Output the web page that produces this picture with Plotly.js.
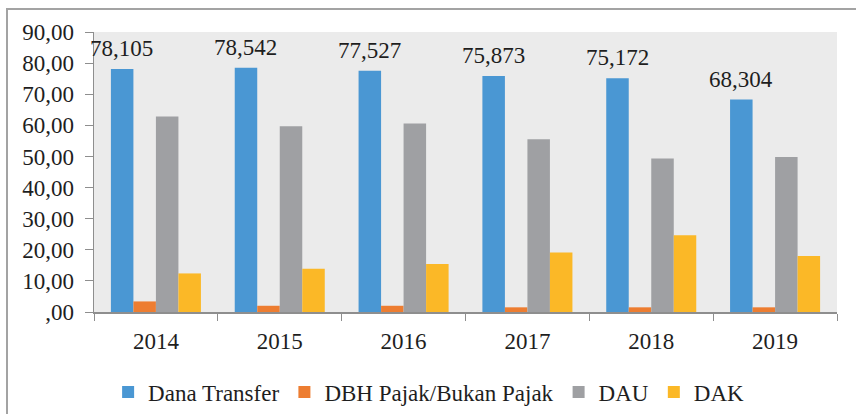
<!DOCTYPE html>
<html>
<head>
<meta charset="utf-8">
<script src="https://cdn.plot.ly/plotly-3.0.1.min.js"></script>
<style>
  html, body { margin: 0; padding: 0; background: #ffffff; }
  #wrap { position: relative; width: 856px; height: 414px; }
  #chart { width: 856px; height: 414px; }
  #frame { position: absolute; left: 6px; top: 8px; width: 860px; height: 420px;
           border-top: 2px solid #a3a3a3; border-left: 2px solid #a3a3a3; pointer-events: none; }
</style>
</head>
<body>
<div id="wrap">
  <div id="chart"></div>
  <div id="frame"></div>
</div>
<script>
const years = ['2014', '2015', '2016', '2017', '2018', '2019'];
const seriesNames = ['Dana Transfer', 'DBH Pajak/Bukan Pajak', 'DAU', 'DAK'];
const danaTransfer = [78.105, 78.542, 77.527, 75.873, 75.172, 68.304];
const dbh = [3.4, 2.0, 2.0, 1.5, 1.5, 1.5];
const dau = [62.8, 59.7, 60.6, 55.5, 49.3, 49.8];
const dak = [12.4, 13.9, 15.4, 19.1, 24.7, 18.0];
const yTickVals = [0, 10, 20, 30, 40, 50, 60, 70, 80, 90];
const yTickText = [',00', '10,00', '20,00', '30,00', '40,00', '50,00', '60,00', '70,00', '80,00', '90,00'];

const colors = ['#4a97d3', '#ed7d31', '#9fa0a3', '#fbb827'];
const font = '"Liberation Serif", "Times New Roman", serif';
const FS = 23;
const allSeries = [danaTransfer, dbh, dau, dak];

const traces = allSeries.map((vals, i) => ({
  type: 'bar',
  name: seriesNames[i],
  x: years,
  y: vals,
  marker: { color: colors[i], line: { width: 0 } },
  hoverinfo: 'x+y+name'
}));

// annotations placed on the category index of each year, shifted onto the first (blue) bar
const annotations = years.map((yr, i) => ({
  x: years.indexOf(yr),
  y: danaTransfer[i],
  xref: 'x',
  yref: 'y',
  text: danaTransfer[i].toFixed(3).replace('.', ','),
  showarrow: false,
  xanchor: 'center',
  yanchor: 'bottom',
  xshift: -34,
  yshift: 6,
  font: { family: font, size: FS, color: '#1e1e1e' }
}));

const layout = {
  width: 856,
  height: 414,
  margin: { l: 94, r: 19, t: 32, b: 102, autoexpand: false },
  paper_bgcolor: '#ffffff',
  plot_bgcolor: '#ebebeb',
  barmode: 'group',
  bargap: 0.273,
  bargroupgap: 0,
  font: { family: font, size: FS, color: '#1e1e1e' },
  showlegend: true,
  legend: {
    orientation: 'h',
    x: 0.019,
    xanchor: 'left',
    y: -0.286,
    yanchor: 'middle',
    font: { family: font, size: FS, color: '#1e1e1e' },
    itemwidth: 30,
    traceorder: 'normal'
  },
  xaxis: {
    type: 'category',
    range: [-0.5, years.length - 0.5],
    autorange: false,
    showline: true,
    linecolor: '#8e8e8e',
    linewidth: 1.5,
    ticks: 'outside',
    tickson: 'boundaries',
    ticklen: 7,
    tickcolor: '#8e8e8e',
    tickangle: 0,
    ticklabelstandoff: 8,
    showgrid: false,
    tickfont: { family: font, size: FS, color: '#1e1e1e' },
    fixedrange: true
  },
  yaxis: {
    range: [0, 90],
    autorange: false,
    tickvals: yTickVals,
    ticktext: yTickText,
    showline: true,
    linecolor: '#8e8e8e',
    linewidth: 1.5,
    ticks: 'outside',
    ticklen: 8,
    tickcolor: '#8e8e8e',
    showgrid: false,
    zeroline: false,
    ticklabelstandoff: 6,
    tickfont: { family: font, size: FS, color: '#1e1e1e' },
    fixedrange: true
  },
  annotations: annotations
};

Plotly.newPlot('chart', traces, layout, { displayModeBar: false, staticPlot: true });
</script>
</body>
</html>
